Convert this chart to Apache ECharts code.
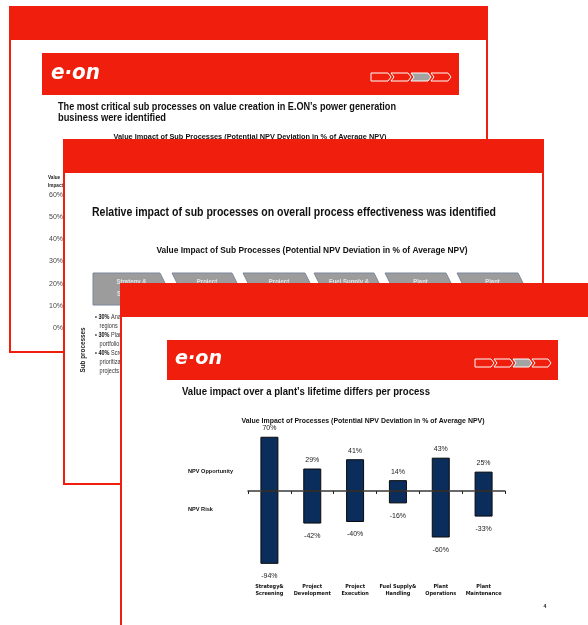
<!DOCTYPE html>
<html><head><meta charset="utf-8">
<script src="https://cdn.jsdelivr.net/npm/echarts@6/dist/echarts.min.js"></script>
<style>html,body{margin:0;padding:0;background:#fff}#c{width:588px;height:625px}</style>
</head><body><div id="c"></div>
<script>
// ---- data ----
const categories = ['Strategy&\nScreening', 'Project\nDevelopment', 'Project\nExecution', 'Fuel Supply&\nHandling', 'Plant\nOperations', 'Plant\nMaintenance'];
const opportunity = [70, 29, 41, 14, 43, 25];
const risk = [-94, -42, -40, -16, -60, -33];
const backAxisMin = 0;
const backAxisMax = 60;
const backAxisStep = 10;
const tabNames = [['Strategy &', 'Screening'], ['Project', 'Development'], ['Project', 'Execution'], ['Fuel Supply &', 'Handling'], ['Plant', 'Operations'], ['Plant', 'Maintenance']];
const bulletLines = ['\u2022 {b|30%} Analysis of', '   regions', '\u2022 {b|30%} Planning of', '   portfolio', '\u2022 {b|40%} Screening and', '   prioritization of', '   projects'];
const titles = {
  s1: ['The most critical sub processes on value creation in E.ON\u2019s power generation', 'business were identified'],
  s1sub: 'Value Impact of Sub Processes (Potential NPV Deviation in % of Average NPV)',
  s2: 'Relative impact of sub processes on overall process effectiveness was identified',
  s2sub: 'Value Impact of Sub Processes (Potential NPV Deviation in % of Average NPV)',
  s3: 'Value impact over a plant\u2019s lifetime differs per process',
  s3sub: 'Value Impact of Processes (Potential NPV Deviation in % of Average NPV)'
};

// ---- styling helpers ----
const RED = '#f01e0c';
const SANS = '"Liberation Sans", Arial, sans-serif';
const mctx = document.createElement('canvas').getContext('2d');
function textW(t, font) { mctx.font = font; return mctx.measureText(t).width; }
const hasNarrow = textW('abcdefghijklmnop', '12px "Liberation Sans Narrow", monospace') !== textW('abcdefghijklmnop', '12px monospace');
const NARROW = hasNarrow ? '"Liberation Sans Narrow", sans-serif' : '"DejaVu Sans Condensed", sans-serif';

const G = [];
function rect(x, y, w, h, fill, stroke, lw, z) {
  G.push({type: 'rect', z: z, shape: {x: x, y: y, width: w, height: h}, style: {fill: fill, stroke: stroke || null, lineWidth: lw || 0}});
}
// text with horizontal condensing: either fit to target width, or fixed factor
function text(t, x, y, size, weight, fill, align, z, fit, family, extra) {
  const font = weight + ' ' + size + 'px ' + (family || SANS);
  let sx = 0.82;
  if (typeof fit === 'number' && fit > 2) sx = fit / textW(t, font);
  else if (typeof fit === 'number') sx = fit;
  const st = {text: t, x: 0, y: 0, font: font, fill: fill, textAlign: align || 'left', textVerticalAlign: 'middle'};
  if (extra) Object.assign(st, extra);
  G.push({type: 'text', z: z, x: x, y: y, scaleX: sx, style: st});
}
function slide(x, y, w, h, z) {
  rect(x, y, w, h, '#fff', RED, 2, z);
  rect(x, y, w, 33, RED, null, 0, z);
}
function banner(x, y, w, h, z, logoX, logoY, logoSize, logoW, chevX, chevY, segW, segH) {
  rect(x, y, w, h, RED, null, 0, z);
  text('e\u00b7on', logoX, logoY, logoSize, 'italic bold', '#fff', 'left', z, logoW, '"DejaVu Sans", sans-serif');
  for (let i = 0; i < 4; i++) {
    const x0 = chevX + i * segW, p = 3, hh = segH / 2;
    const pts = [[x0, chevY], [x0 + segW - p, chevY], [x0 + segW, chevY + hh], [x0 + segW - p, chevY + segH], [x0, chevY + segH]];
    if (i > 0) pts.push([x0 + p, chevY + hh]);
    G.push({type: 'polygon', z: z, shape: {points: pts}, style: {fill: i === 2 ? '#a3a3a3' : RED, stroke: '#fff', lineWidth: 1}});
  }
}

// ---- slide 1 (back) ----
slide(10, 7, 477, 345, 1);
banner(42, 53, 417, 42, 2, 51, 73, 22, 49, 371, 73, 20, 8);
text(titles.s1[0], 58, 107, 11, 'bold', '#111', 'left', 2, 338);
text(titles.s1[1], 58, 118, 11, 'bold', '#111', 'left', 2, 108);
text(titles.s1sub, 250, 137, 8, 'bold', '#111', 'center', 2, 273);
text('Value', 48, 177, 5.5, 'bold', '#222', 'left', 2, 0.85);
text('Impact', 48, 185, 5.5, 'bold', '#222', 'left', 2, 0.85);

// ---- slide 2 (middle) ----
slide(64, 140, 479, 344, 3);
text(titles.s2, 92, 213, 12.5, 'bold', '#111', 'left', 4, 404);
text(titles.s2sub, 312, 251, 9, 'bold', '#111', 'center', 4, 311);
const tabL = [93, 172, 243, 314, 385, 457], tabR = [160, 232, 305, 374, 446, 518];
tabNames.forEach(function (n, i) {
  const l = tabL[i], r = tabR[i], t = 273, b = 305, m = 289, p = 8;
  const pts = [[l, t], [r, t], [r + p, m], [r, b], [l, b]];
  if (i > 0) pts.push([l + p, m]);
  G.push({type: 'polygon', z: 4, shape: {points: pts}, style: {fill: '#9c9c9c', stroke: '#7b8799', lineWidth: 1}});
  const cx = (l + r) / 2 + 5;
  text(n[0], cx, 282, 7.5, 'bold', '#e4e4e4', 'center', 4, 0.8);
  text(n[1], cx, 294, 7.5, 'bold', '#e4e4e4', 'center', 4, 0.8);
});
const bulletY = [317, 326, 335, 344, 353, 362, 371];
bulletLines.forEach(function (s, i) {
  text(s, 95, bulletY[i], 6.5, 'normal', '#333', 'left', 4, 0.85, SANS,
    {rich: {b: {fontWeight: 'bold', fontSize: 6.5, fontFamily: SANS, fill: '#111'}}});
});
G.push({type: 'text', z: 4, x: 83, y: 350, rotation: Math.PI / 2, scaleX: 45 / textW('Sub processes', 'bold 6.5px ' + SANS),
  style: {text: 'Sub processes', x: 0, y: 0, font: 'bold 6.5px ' + SANS, fill: '#222', textAlign: 'center', textVerticalAlign: 'middle'}});

// ---- slide 3 (front) ----
slide(121, 284, 500, 400, 5);
banner(167, 340, 391, 40, 6, 175, 359, 20, 47, 475, 359, 19, 8);
text(titles.s3, 182, 392, 11.5, 'bold', '#111', 'left', 6, 248);
text(titles.s3sub, 363, 421, 8, 'bold', '#111', 'center', 6, 243);
text('NPV Opportunity', 188, 471, 6, 'bold', '#111', 'left', 6, 45);
text('NPV Risk', 188, 509, 6, 'bold', '#111', 'left', 6, 25);
text('4', 545, 607, 5, 'bold', '#111', 'center', 6, 1);

const labelStyle = {show: true, formatter: '{c}%', fontSize: 7, fontFamily: SANS, color: '#222'};

const chart = echarts.init(document.getElementById('c'), null, {renderer: 'canvas'});
chart.setOption({
  animation: false,
  backgroundColor: '#fff',
  graphic: {elements: G},
  grid: [
    {left: 248, top: 429, width: 257, height: 155, containLabel: false, outerBoundsMode: 'none'},
    {left: 66, top: 195, width: 10, height: 133, containLabel: false, outerBoundsMode: 'none'}
  ],
  xAxis: [
    {type: 'category', gridIndex: 0, data: categories, z: 11,
      axisLine: {onZero: true, lineStyle: {color: '#3a3a3a', width: 1.5}},
      axisTick: {show: true, length: 3, lineStyle: {color: '#222', width: 1}},
      axisLabel: {margin: -1, fontSize: hasNarrow ? 6.5 : 5.5, fontWeight: 'bold', fontFamily: NARROW, color: '#111', lineHeight: 7, interval: 0},
      splitLine: {show: false}},
    {type: 'value', gridIndex: 1, show: false}
  ],
  yAxis: [
    {type: 'value', gridIndex: 0, min: -120, max: 80, show: false},
    {type: 'value', gridIndex: 1, min: backAxisMin, max: backAxisMax, interval: backAxisStep, z: 2,
      axisLine: {show: false}, axisTick: {show: false}, splitLine: {show: false},
      axisLabel: {formatter: '{value}%', margin: 3, fontSize: 7, fontFamily: SANS, color: '#444'}}
  ],
  series: [
    {type: 'bar', name: 'NPV Opportunity', stack: 'v', data: opportunity, barWidth: 18, z: 10,
      itemStyle: {color: '#0b2d5c', borderColor: '#0a0a0a', borderWidth: 1},
      label: Object.assign({position: 'top', distance: 5}, labelStyle)},
    {type: 'bar', name: 'NPV Risk', stack: 'v', data: risk, barWidth: 18, z: 10,
      itemStyle: {color: '#0b2d5c', borderColor: '#0a0a0a', borderWidth: 1},
      label: Object.assign({position: 'bottom', distance: 9}, labelStyle)}
  ]
});
</script></body></html>
